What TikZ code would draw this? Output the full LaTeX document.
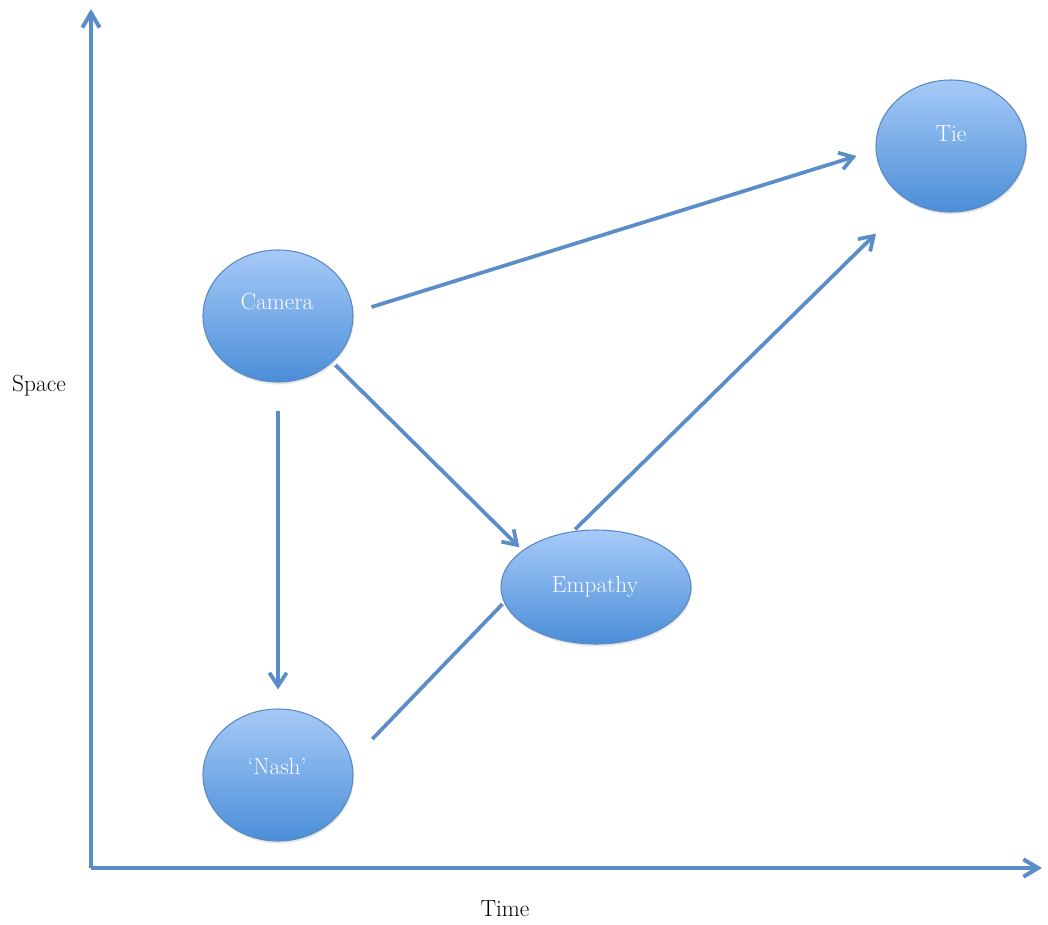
\documentclass[tikz,border=0pt]{standalone}
\usetikzlibrary{arrows.meta,calc,shadows,shapes.geometric}

\definecolor{linkblue}{HTML}{5B8DC9}
\definecolor{ovaltop}{HTML}{A6CAF8}
\definecolor{ovalbottom}{HTML}{4B8ED7}
\definecolor{ovaledge}{HTML}{5A89C4}

\tikzset{
  oval/.style={ellipse, draw=ovaledge, line width=0.8pt,
    top color=ovaltop, bottom color=ovalbottom,
    drop shadow={opacity=0.2, shadow xshift=0.6pt, shadow yshift=-1.8pt},
    inner sep=0pt, minimum width=112.5pt, minimum height=99pt},
  ovaltext/.style={text=white, font=\fontsize{17.5}{20}\selectfont},
  link/.style={linkblue, line width=2.8pt,
    -{Straight Barb[length=10pt, width=13pt]}},
  plainlink/.style={linkblue, line width=2.8pt},
  axis/.style={linkblue, line width=3pt,
    -{Straight Barb[length=11pt, width=13pt]}},
  axislabel/.style={font=\fontsize{17.5}{20}\selectfont}
}

\begin{document}
\begin{tikzpicture}[x=0.75pt, y=-0.75pt]
  \useasboundingbox (0,0) rectangle (1048,924);

  % axes
  \coordinate (origin) at (91,868);
  \coordinate (ytop) at (91,9);
  \coordinate (xend) at (1042,868);
  \draw[axis] (origin) -- (ytop);
  \draw[axis] (origin) -- (xend);
  \node[axislabel] (space) at (39,386) {Space};
  \node[axislabel] (time) at (505,909) {Time};

  % ovals
  \node[oval] (camera) at (278,316) {};
  \node[oval] (tie) at (951,146) {};
  \node[oval, minimum width=142.5pt, minimum height=85.5pt] (empathy) at (596,587) {};
  \node[oval] (nash) at (278,775) {};
  \node[ovaltext] (cameratext) at (277,302) {Camera};
  \node[ovaltext] (tietext) at (951,134) {Tie};
  \node[ovaltext] (empathytext) at (595,587) {Empathy};
  \node[ovaltext] (nashtext) at (277,766) {`Nash'};

  % connectors
  \draw[link] ($(camera.east)+(18,-9)$) -- ($(tie.west)+(-19,10)$);
  \draw[link] ($(camera.south east)+(4,2)$) -- ($(empathy.north west)+(-9,1)$);
  \draw[link] ($(empathy.north)+(-21,0)$) -- ($(tie.south)+(-75,21)$);
  \draw[link] ($(camera.south)+(0,28)$) -- ($(nash.north)+(0,-19)$);
  \draw[plainlink] ($(nash.north east)+(41,11)$) -- ($(empathy.west)+(2,17)$);
\end{tikzpicture}
\end{document}
